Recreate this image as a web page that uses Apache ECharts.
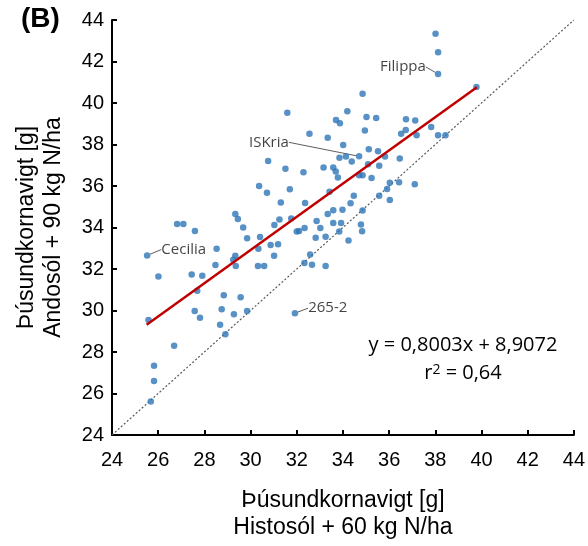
<!DOCTYPE html>
<html>
<head>
<meta charset="utf-8">
<script src="https://cdn.jsdelivr.net/npm/echarts@6/dist/echarts.min.js"></script>
<style>
  html, body { margin: 0; padding: 0; background: #fff; }
  #chart { width: 588px; height: 546px; }
</style>
</head>
<body>
<div id="chart"></div>
<script>
// Histosol (x) vs Andosol (y) thousand kernel weight, one dot per line
const xVals = [38.01,38.12,39.78,34.85,31.59,34.19,35.02,35.44,33.70,33.87,
  36.73,37.13,34.95,32.55,33.34,36.52,36.72,37.19,37.82,38.12,
  38.44,34.01,35.12,35.52,33.85,34.13,34.38,35.82,36.46,35.09,
  35.57,30.76,31.51,32.29,33.16,33.58,33.69,33.78,34.70,34.85,
  35.24,36.03,36.43,37.11,35.91,30.37,30.71,31.70,33.42,34.47,
  35.57,36.03,31.31,32.36,34.33,33.34,33.58,33.98,34.85,29.34,
  29.45,29.68,26.82,27.09,27.59,29.85,31.25,31.03,31.76,32.00,
  32.10,32.34,32.86,33.02,33.58,33.92,34.78,33.84,34.83,30.41,
  32.82,33.25,34.24,30.34,30.87,31.19,31.02,28.53,29.34,29.25,
  28.48,29.36,30.32,30.59,32.58,32.33,32.66,33.25,26.01,27.45,
  27.91,27.69,28.84,29.57,25.58,27.58,27.81,28.75,29.28,29.85,
  28.68,28.91,26.69,25.82,25.82,25.68];
const yVals = [43.34,42.45,40.77,40.45,39.53,39.60,39.33,39.28,39.18,39.03,
  39.22,39.16,38.68,38.52,38.33,38.52,38.70,38.44,38.84,38.44,
  38.44,37.98,37.77,37.67,37.36,37.42,37.18,37.42,37.32,37.05,
  36.97,37.20,36.83,36.66,36.89,36.89,36.70,36.41,36.52,36.52,
  36.38,36.16,36.18,36.09,35.85,36.00,35.68,35.84,35.72,35.53,
  35.53,35.33,35.21,35.18,35.17,34.65,34.83,34.85,34.82,34.65,
  34.41,34.00,34.17,34.17,33.83,33.48,34.39,34.12,34.43,33.81,
  33.83,33.98,34.31,33.98,34.22,34.22,34.14,33.81,33.82,33.54,
  33.51,33.56,33.37,32.97,33.16,33.19,32.64,32.98,32.64,32.45,
  32.19,32.15,32.15,32.15,32.70,32.29,32.20,32.14,31.64,31.74,
  31.67,30.95,30.74,30.64,29.54,29.97,29.65,30.06,29.82,29.97,
  29.31,28.86,28.30,27.34,26.60,25.62];

// named cultivars
const labelNames = ['Filippa', 'ISKria', 'Cecilia', '265-2'];
const labelX = [38.12, 34.70, 25.52, 31.92];
const labelY = [41.40, 37.43, 32.65, 29.87];

// fitted line  y = 0,8003x + 8,9072
const slope = 0.8003;
const intercept = 8.9072;
const trendX = [25.5, 39.8];
const oneToOne = [24, 44];
const ticks = [24, 26, 28, 30, 32, 34, 36, 38, 40, 42, 44];

const chart = echarts.init(document.getElementById('chart'));

const dotColor = '#2e75b6';
const labelSide = ['left', 'left', 'right', 'right'];
const labelShift = [[-4, -7], [-62, -14], [6, -6], [5, -5]];

const axisCommon = {
    type: 'value',
    min: ticks[0],
    max: ticks[ticks.length - 1],
    interval: 2,
    splitLine: { show: false },
    axisLine: { onZero: false, lineStyle: { color: '#000', width: 2 } },
    axisTick: { inside: true, length: 5, lineStyle: { color: '#000', width: 2 } },
    nameLocation: 'middle',
    nameTextStyle: { fontFamily: 'Liberation Sans', fontSize: 23, color: '#000', lineHeight: 27 }
};

const option = {
    animation: false,
    grid: { left: 112, top: 20, width: 464, height: 417 },
    xAxis: Object.assign({}, axisCommon, {
        name: 'Þúsundkornavigt [g]\nHistosól + 60 kg N/ha',
        nameGap: 52,
        axisLabel: { fontFamily: 'Liberation Sans', fontSize: 20, color: '#000', margin: 15 }
    }),
    yAxis: Object.assign({}, axisCommon, {
        name: 'Þúsundkornavigt [g]\nAndosól + 90 kg N/ha',
        nameGap: 45,
        nameRotate: 90,
        axisLabel: { fontFamily: 'Liberation Sans', fontSize: 20, color: '#000', margin: 8 }
    }),
    series: [
        {
            type: 'line',
            data: oneToOne.map(v => [v, v]),
            symbol: 'none',
            lineStyle: { color: '#595959', width: 1.2, type: [2, 2] },
            z: 1
        },
        {
            type: 'scatter',
            data: xVals.map((x, i) => [x, yVals[i]]),
            symbolSize: 6.5,
            itemStyle: { color: dotColor },
            z: 2
        },
        {
            type: 'scatter',
            data: labelNames.map((n, i) => ({
                name: n,
                value: [labelX[i], labelY[i]],
                label: { position: labelSide[i] }
            })),
            symbolSize: 6.5,
            itemStyle: { color: dotColor },
            label: {
                show: true,
                formatter: '{b}',
                fontFamily: 'Open Sans',
                fontSize: 15,
                color: '#111'
            },
            labelLine: { show: true, lineStyle: { color: '#333', width: 0.8 } },
            labelLayout: function (p) {
                const i = p.dataIndex;
                return { dx: labelShift[i][0], dy: labelShift[i][1] };
            },
            z: 2
        },
        {
            type: 'line',
            data: trendX.map(x => [x, slope * x + intercept]),
            symbol: 'none',
            lineStyle: { color: '#c00000', width: 2.5 },
            z: 3
        }
    ],
    graphic: [
        {
            type: 'text',
            left: 21, top: 5,
            style: { text: '(B)', font: 'bold 28px "Liberation Sans"', fill: '#000' }
        },
        {
            type: 'text',
            x: 463, y: 345,
            style: {
                text: 'y = 0,8003x + 8,9072',
                font: '20px "Open Sans"', fill: '#000',
                align: 'center', verticalAlign: 'middle'
            }
        },
        {
            type: 'text',
            x: 463, y: 373,
            style: {
                text: 'r{sup|2} = 0,64',
                font: '20px "Open Sans"', fill: '#000',
                align: 'center', verticalAlign: 'middle',
                rich: { sup: { fontSize: 14, fontFamily: 'Open Sans', verticalAlign: 'top', lineHeight: 12 } }
            }
        }
    ]
};

chart.setOption(option);
</script>
</body>
</html>
